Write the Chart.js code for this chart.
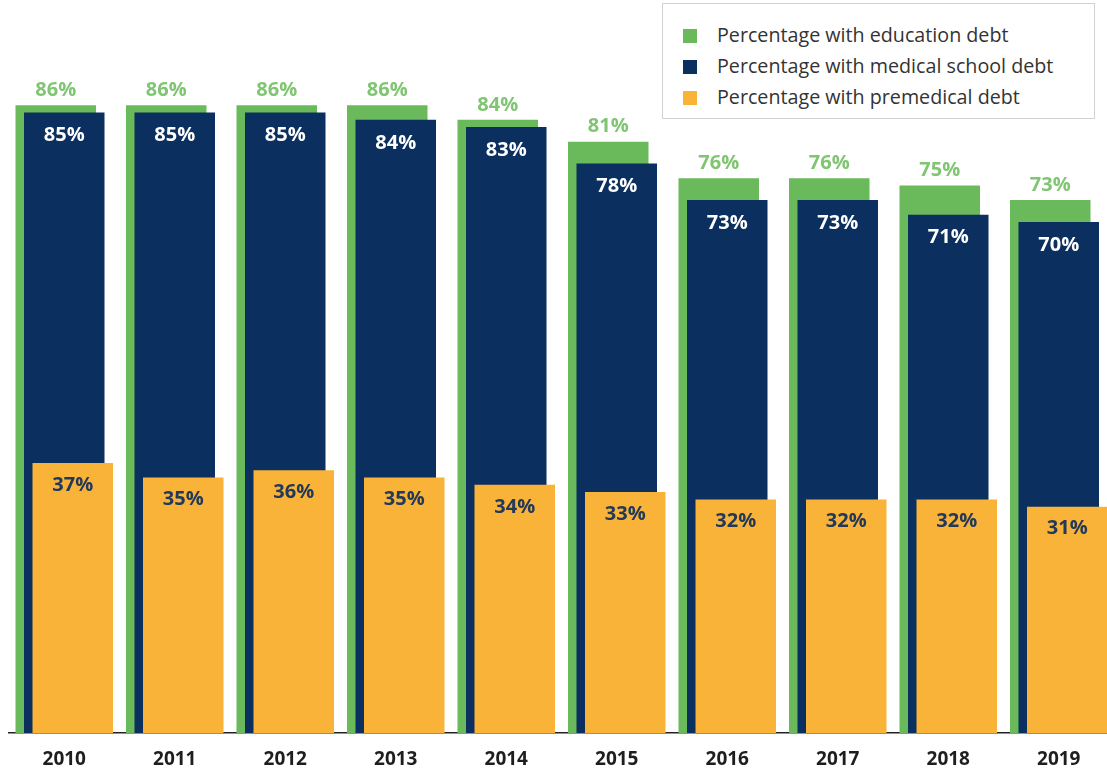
<!DOCTYPE html>
<html>
<head>
<meta charset="utf-8">
<script src="https://cdn.jsdelivr.net/npm/chart.js@4"></script>
<style>
  html, body { margin: 0; padding: 0; background: #fff; overflow: hidden; }
  #wrap { position: relative; width: 1107px; height: 769px; overflow: hidden; }
  #myChart { position: absolute; left: 0; top: 0; }
  #legend {
    position: absolute; left: 662px; top: 3px; width: 433px; height: 116px;
    border: 1px solid #d2d2d2; background: #fff; box-sizing: border-box;
    font-family: 'Open Sans', sans-serif; font-size: 19.7px; color: #333;
  }
  #legend .item { position: absolute; left: 20px; height: 20px; line-height: 20px; white-space: nowrap; }
  #legend .box { position: absolute; left: 0; top: 3px; width: 14px; height: 14px; }
  #legend .txt { position: absolute; left: 34px; top: -1px; }
</style>
</head>
<body>
<div id="wrap">
  <canvas id="myChart" width="1115" height="769"></canvas>
  <div id="legend"></div>
</div>
<script>
const years = ['2010', '2011', '2012', '2013', '2014', '2015', '2016', '2017', '2018', '2019']
const educationDebt = [86, 86, 86, 86, 84, 81, 76, 76, 75, 73]
const medicalDebt = [85, 85, 85, 84, 83, 78, 73, 73, 71, 70]
const premedDebt = [37, 35, 36, 35, 34, 33, 32, 32, 32, 31]

const seriesLabels = [
  'Percentage with education debt',
  'Percentage with medical school debt',
  'Percentage with premedical debt',
]
const barColors = ['#6ab95b', '#0b2f5f', '#f8b338']
const labelColors = ['#7fc572', '#ffffff', '#23395a']
// label offset from bar top: negative = above the bar
const labelOffsets = [-15, 23, 22]

// draw green first, yellow last, and put the value labels on top
const overlapPlugin = {
  id: 'overlap',
  beforeDatasetsDraw(chart) {
    const ctx = chart.ctx
    for (let i = 0; i < chart.data.datasets.length; i++) {
      const meta = chart.getDatasetMeta(i)
      if (!meta.hidden) meta.controller.draw()
    }
    ctx.save()
    ctx.font = 'bold 20px "Open Sans", sans-serif'
    ctx.textAlign = 'center'
    ctx.textBaseline = 'middle'
    chart.data.datasets.forEach((ds, i) => {
      const meta = chart.getDatasetMeta(i)
      ctx.fillStyle = labelColors[i]
      meta.data.forEach((bar, j) => {
        ctx.fillText(ds.data[j] + '%', bar.x, bar.y + labelOffsets[i])
      })
    })
    ctx.restore()
    return false
  }
}

const ctx = document.getElementById('myChart').getContext('2d')
const chart = new Chart(ctx, {
  type: 'bar',
  data: {
    labels: years,
    datasets: [
      { label: seriesLabels[0], data: educationDebt, backgroundColor: barColors[0] },
      { label: seriesLabels[1], data: medicalDebt, backgroundColor: barColors[1] },
      { label: seriesLabels[2], data: premedDebt, backgroundColor: barColors[2] },
    ]
  },
  options: {
    responsive: false,
    animation: false,
    categoryPercentage: 0.2308,
    barPercentage: 9.47,
    layout: { padding: { left: 9, right: 1, top: 3, bottom: 0 } },
    scales: {
      x: {
        grid: { display: false, drawTicks: false },
        border: { display: true, color: '#222', width: 1.5 },
        ticks: {
          color: '#1e1e1e',
          padding: 15,
          font: { family: 'Open Sans', size: 19, weight: 'bold' }
        },
        afterFit: scale => { scale.height = 36 }
      },
      y: {
        display: false,
        min: 0,
        max: 100
      }
    },
    plugins: {
      legend: { display: false },
      tooltip: { enabled: false }
    }
  },
  plugins: [overlapPlugin]
})

// legend box built from the same series
const legendEl = document.getElementById('legend')
const rowTops = [22, 53, 84]
seriesLabels.forEach((label, i) => {
  const item = document.createElement('div')
  item.className = 'item'
  item.style.top = rowTops[i] + 'px'
  item.innerHTML = '<span class="box" style="background:' + barColors[i] + '"></span>' +
    '<span class="txt">' + label + '</span>'
  legendEl.appendChild(item)
})
</script>
</body>
</html>
